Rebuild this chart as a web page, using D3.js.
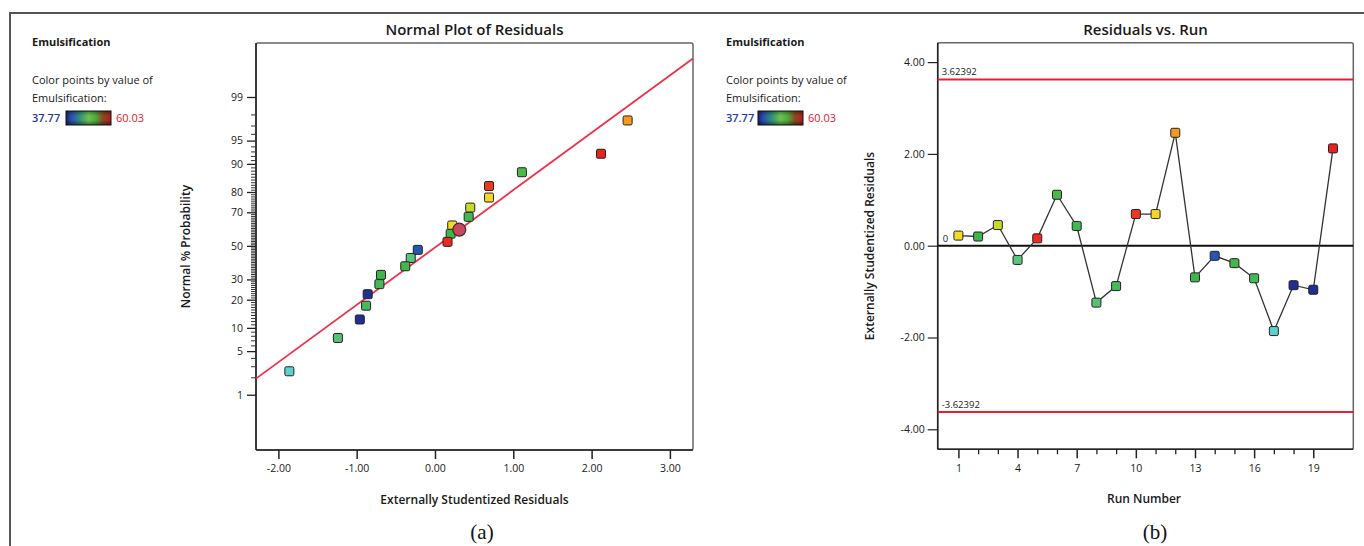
<!DOCTYPE html>
<html>
<head>
<meta charset="utf-8">
<script src="https://cdn.jsdelivr.net/npm/d3@7"></script>
<style>
html,body{margin:0;padding:0;background:#fff;}
svg{display:block;font-family:"Open Sans","Noto Sans",sans-serif;}
</style>
</head>
<body>
<svg id="chart" width="1364" height="546"></svg>
<script>
// ---------------- DATA ----------------
const runs = [1,2,3,4,5,6,7,8,9,10,11,12,13,14,15,16,17,18,19,20];
const residuals = [0.22,0.20,0.45,-0.31,0.16,1.11,0.43,-1.24,-0.88,0.69,0.69,2.46,-0.69,-0.22,-0.38,-0.71,-1.86,-0.86,-0.96,2.12];
const normalProb = [62.5,57.5,72.5,42.5,52.5,87.5,67.5,7.5,17.5,82.5,77.5,97.5,32.5,47.5,37.5,27.5,2.5,22.5,12.5,92.5];
const emulsification = [54.5,47,52,44,59.8,47.5,46.5,44.5,46,59.5,54.8,57.2,46.8,40,47.2,46.2,42,37.9,37.77,60.03];
const highlightResidual = [0.31];
const highlightProb = [60];
const fitLineResid = [-2.286,3.295];
const fitLineProb = [1.9,99.83];
const probMajorTicks = [1,5,10,20,30,50,70,80,90,95,99];
const probMinorTicks = [2,3,4,6,7,8,9,11,12,13,14,15,16,17,18,19,21,22,23,24,25,26,27,28,29,31,32,33,34,35,36,37,38,39,40,41,42,43,44,45,46,47,48,49,51,52,53,54,55,56,57,58,59,60,61,62,63,64,65,66,67,68,69,71,72,73,74,75,76,77,78,79,81,82,83,84,85,86,87,88,89,91,92,93,94,96,97,98];
const residTicks = [-2,-1,0,1,2,3];
const runMajorTicks = [1,4,7,10,13,16,19];
const runMinorTicks = [2,3,5,6,8,9,11,12,14,15,17,18];
const studTicks = [-4,-2,0,2,4];
const limitValue = [3.62392,-3.62392];
const emulsRange = [37.77,60.03];

// ---------------- HELPERS ----------------
function probit(p){
  const a=[-3.969683028665376e+01,2.209460984245205e+02,-2.759285104469687e+02,1.383577518672690e+02,-3.066479806614716e+01,2.506628277459239e+00];
  const b=[-5.447609879822406e+01,1.615858368580409e+02,-1.556989798598866e+02,6.680131188771972e+01,-1.328068155288572e+01];
  const c=[-7.784894002430293e-03,-3.223964580411365e-01,-2.400758277161838e+00,-2.549732539343734e+00,4.374664141464968e+00,2.938163982698783e+00];
  const d=[7.784695709041462e-03,3.224671290700398e-01,2.445134137142996e+00,3.754408661907416e+00];
  const pl=0.02425, ph=1-pl; let q,r;
  if(p<pl){q=Math.sqrt(-2*Math.log(p));return (((((c[0]*q+c[1])*q+c[2])*q+c[3])*q+c[4])*q+c[5])/((((d[0]*q+d[1])*q+d[2])*q+d[3])*q+1);}
  if(p<=ph){q=p-0.5;r=q*q;return (((((a[0]*r+a[1])*r+a[2])*r+a[3])*r+a[4])*r+a[5])*q/(((((b[0]*r+b[1])*r+b[2])*r+b[3])*r+b[4])*r+1);}
  q=Math.sqrt(-2*Math.log(1-p));return -(((((c[0]*q+c[1])*q+c[2])*q+c[3])*q+c[4])*q+c[5])/((((d[0]*q+d[1])*q+d[2])*q+d[3])*q+1);
}
const fmt2 = v => d3.format(".2f")(v).replace("\u2212","-");
const fmt5 = v => d3.format(".5f")(v).replace("\u2212","-");
const color = d3.scaleLinear()
  .domain([37.77,40,42,44,47,52,54,57,60.03])
  .range(["#1e2f8c","#2556b0","#5fd0d0","#5cc47e","#3db54a","#c8d92c","#f3e62a","#f5a31c","#e8221f"])
  .clamp(true);

const svg = d3.select("#chart");
const TXT = "#1a1a1a";

// outer frame
svg.append("path").attr("d","M10,546 V13 H1364").attr("fill","none").attr("stroke","#555").attr("stroke-width",2);

// ---------------- LEGENDS ----------------
const defs = svg.append("defs");
const grad = defs.append("linearGradient").attr("id","lg").attr("x1","0").attr("x2","1");
[["0%","#18236e"],["12%","#2a4fb0"],["30%","#2f8f7a"],["50%","#6cc250"],["66%","#4faa3e"],["82%","#8a4a22"],["100%","#b01c1c"]]
  .forEach(s=>grad.append("stop").attr("offset",s[0]).attr("stop-color",s[1]));
const gradV = defs.append("linearGradient").attr("id","lgv").attr("x1","0").attr("x2","0").attr("y1","0").attr("y2","1");
[["0%","#000",0.35],["35%","#000",0],["65%","#000",0],["100%","#000",0.45]]
  .forEach(s=>gradV.append("stop").attr("offset",s[0]).attr("stop-color",s[1]).attr("stop-opacity",s[2]));

function legend(x, barX){
  const g = svg.append("g");
  g.append("text").attr("x",x).attr("y",46).attr("font-size",11).attr("font-weight","bold").attr("fill",TXT).text("Emulsification");
  g.append("text").attr("x",x).attr("y",84).attr("font-size",11).attr("fill",TXT).text("Color points by value of");
  g.append("text").attr("x",x).attr("y",102).attr("font-size",11).attr("fill",TXT).text("Emulsification:");
  g.append("text").attr("x",x).attr("y",122).attr("font-size",11).attr("font-weight","600").attr("fill","#2238a0").text(fmt2(emulsRange[0]));
  g.append("rect").attr("x",barX).attr("y",111).attr("width",45).attr("height",14).attr("fill","url(#lg)");
  g.append("rect").attr("x",barX).attr("y",111).attr("width",45).attr("height",14).attr("fill","url(#lgv)").attr("stroke","#111").attr("stroke-width",1);
  g.append("text").attr("x",barX+50).attr("y",122).attr("font-size",11).attr("fill","#e0202a").text(fmt2(emulsRange[1]));
}
legend(32, 66);
legend(726, 758);

// ---------------- LEFT: NORMAL PLOT ----------------
const L = {x0:256, x1:693, y0:43, y1:450};
const xL = d3.scaleLinear().domain([-2.286,3.295]).range([L.x0,L.x1]);
const zL = d3.scaleLinear().domain([-3.19,3.17]).range([L.y1,L.y0]);
const yP = p => zL(probit(p/100));

const gl = svg.append("g");
gl.append("rect").attr("x",L.x0).attr("y",L.y0).attr("width",L.x1-L.x0).attr("height",L.y1-L.y0)
  .attr("fill","none").attr("stroke","#666").attr("stroke-width",1.5).attr("rx",2);
gl.append("line").attr("x1",L.x0).attr("x2",L.x0).attr("y1",L.y0).attr("y2",L.y1).attr("stroke","#222").attr("stroke-width",1.5);
gl.append("line").attr("x1",L.x0).attr("x2",L.x1).attr("y1",L.y1).attr("y2",L.y1).attr("stroke","#222").attr("stroke-width",1.5);

// x axis
const xAxisL = d3.axisBottom(xL).tickValues(residTicks).tickFormat(fmt2).tickSize(9).tickPadding(6);
const gxl = gl.append("g").attr("transform",`translate(0,${L.y1})`).call(xAxisL);
gxl.select(".domain").remove();
gxl.selectAll("line").attr("stroke","#222").attr("stroke-width",1.5);
gxl.selectAll("text").attr("font-size",10.5).attr("fill",TXT).attr("font-family","Open Sans");

// y axis minor ticks
const gyMinor = gl.append("g").attr("transform",`translate(${L.x0},0)`)
  .call(d3.axisLeft(zL).tickValues(probMinorTicks.map(p=>probit(p/100))).tickSize(5).tickFormat(""));
gyMinor.select(".domain").remove();
gyMinor.selectAll("line").attr("stroke","#333").attr("stroke-width",1);
// y axis major
const yAxisL = d3.axisLeft(zL).tickValues(probMajorTicks.map(p=>probit(p/100))).tickFormat((d,i)=>probMajorTicks[i]).tickSize(9).tickPadding(4);
const gyl = gl.append("g").attr("transform",`translate(${L.x0},0)`).call(yAxisL);
gyl.select(".domain").remove();
gyl.selectAll("line").attr("stroke","#222").attr("stroke-width",1.3);
gyl.selectAll("text").attr("font-size",10.5).attr("fill",TXT).attr("font-family","Open Sans");

// fit line
gl.append("line")
  .attr("x1",xL(fitLineResid[0])).attr("y1",yP(fitLineProb[0]))
  .attr("x2",xL(fitLineResid[1])).attr("y2",yP(fitLineProb[1]))
  .attr("stroke","#f0304a").attr("stroke-width",1.8);

// points
const ptsL = runs.map((r,i)=>({r, x:residuals[i], p:normalProb[i], e:emulsification[i]}));
gl.selectAll(".pl").data(ptsL).join("rect")
  .attr("x",d=>xL(d.x)-4.5).attr("y",d=>yP(d.p)-4.5).attr("width",9).attr("height",9).attr("rx",1.5)
  .attr("fill",d=>color(d.e)).attr("stroke","#222").attr("stroke-width",1);
gl.selectAll(".hl").data(highlightResidual).join("circle")
  .attr("cx",d=>xL(d)).attr("cy",(d,i)=>yP(highlightProb[i])).attr("r",6.5)
  .attr("fill","#c9485e").attr("stroke","#333").attr("stroke-width",1.2);

// titles
svg.append("text").attr("x",(L.x0+L.x1)/2).attr("y",35).attr("text-anchor","middle").attr("font-size",15).attr("font-weight","600").attr("fill",TXT).text("Normal Plot of Residuals");
svg.append("text").attr("x",(L.x0+L.x1)/2).attr("y",504).attr("text-anchor","middle").attr("font-size",12).attr("font-weight","600").attr("fill",TXT).text("Externally Studentized Residuals");
svg.append("text").attr("transform",`translate(190,${(L.y0+L.y1)/2}) rotate(-90)`).attr("text-anchor","middle").attr("font-size",12).attr("font-weight","600").attr("fill",TXT).text("Normal % Probability");
svg.append("text").attr("x",482).attr("y",539).attr("text-anchor","middle").attr("font-size",21).attr("font-family","Liberation Serif, serif").attr("fill","#111").text("(a)");

// ---------------- RIGHT: RESIDUALS VS RUN ----------------
const R = {x0:937.7, x1:1353.3, y0:42.7, y1:449.3};
const xR = d3.scaleLinear().domain([-0.05,21.03]).range([R.x0,R.x1]);
const yR = d3.scaleLinear().domain([-4.436,4.423]).range([R.y1,R.y0]);
const gr = svg.append("g");
gr.append("rect").attr("x",R.x0).attr("y",R.y0).attr("width",R.x1-R.x0).attr("height",R.y1-R.y0)
  .attr("fill","none").attr("stroke","#666").attr("stroke-width",1.5).attr("rx",2);
gr.append("line").attr("x1",R.x0).attr("x2",R.x0).attr("y1",R.y0).attr("y2",R.y1).attr("stroke","#222").attr("stroke-width",1.5);
gr.append("line").attr("x1",R.x0).attr("x2",R.x1).attr("y1",R.y1).attr("y2",R.y1).attr("stroke","#222").attr("stroke-width",1.5);

// x axis minor ticks
const gxMinor = gr.append("g").attr("transform",`translate(0,${R.y1})`)
  .call(d3.axisBottom(xR).tickValues(runMinorTicks).tickSize(5).tickFormat(""));
gxMinor.select(".domain").remove();
gxMinor.selectAll("line").attr("stroke","#222").attr("stroke-width",1.3);
const xAxisR = d3.axisBottom(xR).tickValues(runMajorTicks).tickFormat(d3.format("d")).tickSize(9).tickPadding(6);
const gxr = gr.append("g").attr("transform",`translate(0,${R.y1})`).call(xAxisR);
gxr.select(".domain").remove();
gxr.selectAll("line").attr("stroke","#222").attr("stroke-width",1.5);
gxr.selectAll("text").attr("font-size",10.5).attr("fill",TXT).attr("font-family","Open Sans");

const yAxisR = d3.axisLeft(yR).tickValues(studTicks).tickFormat(fmt2).tickSize(10).tickPadding(3);
const gyr = gr.append("g").attr("transform",`translate(${R.x0},0)`).call(yAxisR);
gyr.select(".domain").remove();
gyr.selectAll("line").attr("stroke","#222").attr("stroke-width",1.2);
gyr.selectAll("text").attr("font-size",10.5).attr("fill",TXT).attr("font-family","Open Sans");

// zero line & limits
gr.append("line").attr("x1",R.x0).attr("x2",R.x1).attr("y1",yR(0)).attr("y2",yR(0)).attr("stroke","#111").attr("stroke-width",2);
gr.append("text").attr("x",R.x0+5).attr("y",yR(0)-4).attr("font-size",9.5).attr("fill",TXT).text("0");
gr.selectAll(".lim").data(limitValue).join("line")
  .attr("x1",R.x0).attr("x2",R.x1).attr("y1",d=>yR(d)).attr("y2",d=>yR(d)).attr("stroke","#e8202e").attr("stroke-width",2);
gr.selectAll(".limt").data(limitValue).join("text")
  .attr("x",R.x0+4).attr("y",d=>yR(d)-4).attr("font-size",9.5).attr("fill",TXT).text(d=>fmt5(d));

// connecting line
const ptsR = runs.map((r,i)=>({r, v:residuals[i], e:emulsification[i]}));
gr.append("path").datum(ptsR)
  .attr("d",d3.line().x(d=>xR(d.r)).y(d=>yR(d.v)))
  .attr("fill","none").attr("stroke","#333").attr("stroke-width",1.3);
gr.selectAll(".pr").data(ptsR).join("rect")
  .attr("x",d=>xR(d.r)-4.5).attr("y",d=>yR(d.v)-4.5).attr("width",9).attr("height",9).attr("rx",1.5)
  .attr("fill",d=>color(d.e)).attr("stroke","#222").attr("stroke-width",1);

svg.append("text").attr("x",(R.x0+R.x1)/2).attr("y",35).attr("text-anchor","middle").attr("font-size",15).attr("font-weight","600").attr("fill",TXT).text("Residuals vs. Run");
svg.append("text").attr("x",1144).attr("y",503).attr("text-anchor","middle").attr("font-size",12).attr("font-weight","600").attr("fill",TXT).text("Run Number");
svg.append("text").attr("transform",`translate(874,${(R.y0+R.y1)/2}) rotate(-90)`).attr("text-anchor","middle").attr("font-size",12).attr("font-weight","600").attr("fill",TXT).text("Externally Studentized Residuals");
svg.append("text").attr("x",1155).attr("y",539).attr("text-anchor","middle").attr("font-size",21).attr("font-family","Liberation Serif, serif").attr("fill","#111").text("(b)");
</script>
</body>
</html>
